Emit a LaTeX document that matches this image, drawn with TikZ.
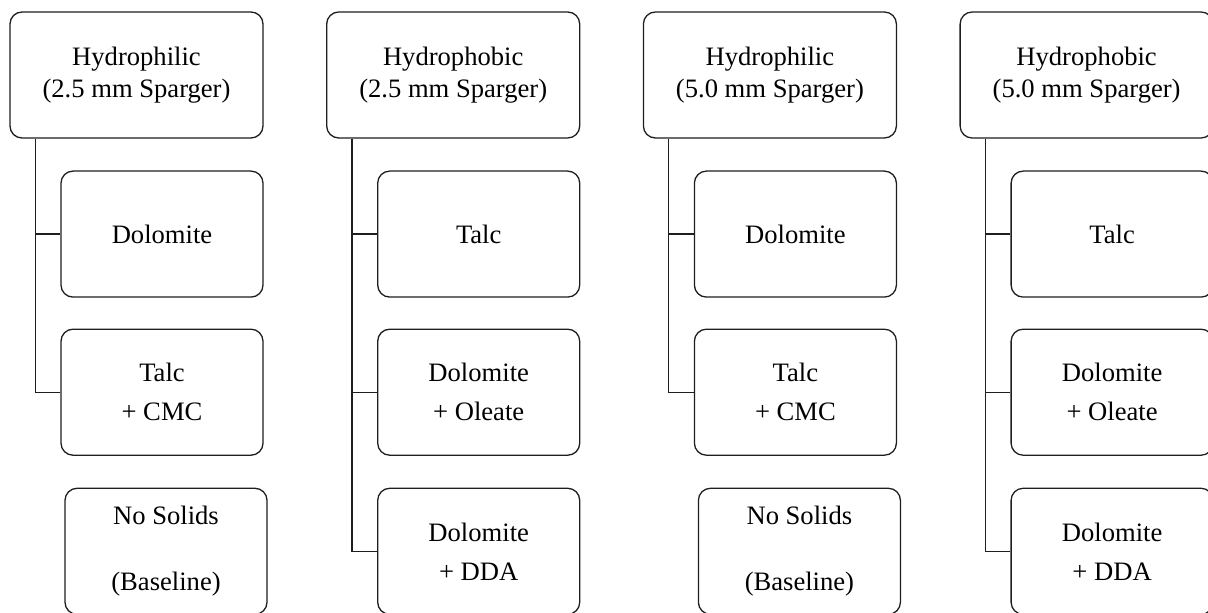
\documentclass[tikz,border=0pt]{standalone}
\usepackage{fontspec}
\setmainfont{Liberation Serif}
\usepackage{tikz}
\usetikzlibrary{positioning}
\definecolor{mydark}{RGB}{30,30,30}
\tikzset{
  headbox/.style={rectangle, draw=mydark, fill=white,
    minimum width=126.5pt, minimum height=63pt, align=center, inner sep=0pt,
    font=\fontsize{13.3}{16}\selectfont, rounded corners=6pt, line width=0.65pt},
  subbox/.style={rectangle, draw=mydark, fill=white,
    minimum width=101pt, minimum height=63pt, align=center, inner sep=0pt,
    font=\fontsize{13.3}{19.5}\selectfont, rounded corners=6pt, line width=0.65pt},
  basebox/.style={subbox, font=\fontsize{13.3}{33}\selectfont},
  line/.style={line width=0.65pt, color=mydark}
}

\begin{document}
\begin{tikzpicture}[x=0.5pt, y=-0.5pt, node distance=15.5pt]
  \useasboundingbox (0,0) rectangle (1208,613);
  % sparger heads — four columns side by side
  \node[headbox] (hphil25) at (136.5,75) {Hydrophilic\\(2.5 mm Sparger)};
  \node[headbox, right=31.2pt of hphil25] (hphob25) {Hydrophobic\\(2.5 mm Sparger)};
  \node[headbox, right=31.2pt of hphob25] (hphil50) {Hydrophilic\\(5.0 mm Sparger)};
  \node[headbox, right=31.2pt of hphil50] (hphob50) {Hydrophobic\\(5.0 mm Sparger)};
  % hydrophilic 2.5 mm
  \node[subbox, below=15.9pt of hphil25.south east, anchor=north east] (dol25) {Dolomite};
  \node[subbox, below=15.4pt of dol25] (talccmc25) {Talc\\+ CMC};
  \node[basebox, below=15.9pt of talccmc25, xshift=2pt] (base25) {No Solids\\(Baseline)};
  % hydrophobic 2.5 mm
  \node[subbox, below=15.9pt of hphob25.south east, anchor=north east] (talc25) {Talc};
  \node[subbox, below=15.4pt of talc25] (dololeate25) {Dolomite\\+ Oleate};
  \node[subbox, below=15.9pt of dololeate25] (doldda25) {Dolomite\\+ DDA};
  % hydrophilic 5.0 mm
  \node[subbox, below=15.9pt of hphil50.south east, anchor=north east] (dol50) {Dolomite};
  \node[subbox, below=15.4pt of dol50] (talccmc50) {Talc\\+ CMC};
  \node[basebox, below=15.9pt of talccmc50, xshift=2pt] (base50) {No Solids\\(Baseline)};
  % hydrophobic 5.0 mm
  \node[subbox, below=15.9pt of hphob50.south east, anchor=north east] (talc50) {Talc};
  \node[subbox, below=15.4pt of talc50] (dololeate50) {Dolomite\\+ Oleate};
  \node[subbox, below=15.9pt of dololeate50] (doldda50) {Dolomite\\+ DDA};
  % tree lines
  \draw[line] ([xshift=13pt]hphil25.south west) |- (dol25.west);
  \draw[line] ([xshift=13pt]hphil25.south west) |- (talccmc25.west);
  \draw[line] ([xshift=13pt]hphob25.south west) |- (talc25.west);
  \draw[line] ([xshift=13pt]hphob25.south west) |- (dololeate25.west);
  \draw[line] ([xshift=13pt]hphob25.south west) |- (doldda25.west);
  \draw[line] ([xshift=13pt]hphil50.south west) |- (dol50.west);
  \draw[line] ([xshift=13pt]hphil50.south west) |- (talccmc50.west);
  \draw[line] ([xshift=13pt]hphob50.south west) |- (talc50.west);
  \draw[line] ([xshift=13pt]hphob50.south west) |- (dololeate50.west);
  \draw[line] ([xshift=13pt]hphob50.south west) |- (doldda50.west);
\end{tikzpicture}
\end{document}
